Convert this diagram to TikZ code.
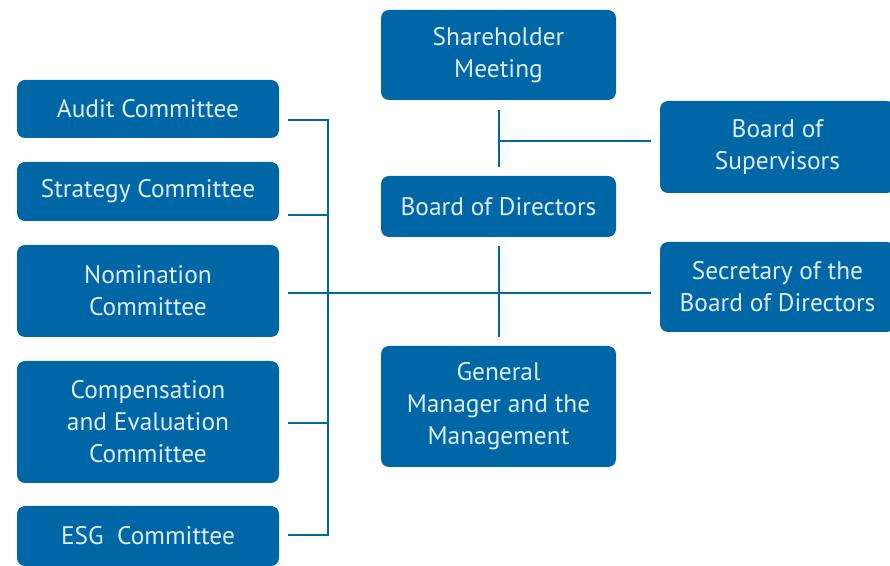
\documentclass[tikz,border=0pt]{standalone}
\usepackage{fontspec}
\setmainfont{PT Sans}
\usetikzlibrary{calc}
\definecolor{orgblue}{RGB}{0,103,167}
\definecolor{orgtext}{RGB}{222,236,246}
\begin{document}
\begin{tikzpicture}[x=0.5pt,y=-0.5pt,
    orgbox/.style={fill=orgblue, rounded corners=4pt, text=orgtext, align=center,
      inner sep=0pt, font=\fontsize{12.7}{16}\selectfont},
    leftbox/.style={orgbox, minimum width=131pt},
    midbox/.style={orgbox, minimum width=117.5pt},
    link/.style={draw=orgblue, line width=1pt}]
    \useasboundingbox (0,0) rectangle (890,566);
    % centre column
    \node [midbox, minimum height=45pt] (share) at (498.5,55) {Shareholder\\Meeting};
    \node [midbox, minimum height=30.5pt] (board) at (498.5,206.5) {Board of Directors};
    \node [midbox, minimum height=60.5pt] (gm) at (498.5,406.5) {General\\Manager and the\\Management};
    % right column
    \node [midbox, minimum height=46pt] (sup) at (777.5,147) {Board of\\Supervisors};
    \node [midbox, minimum height=45pt] (sec) at (777.5,287) {Secretary of the\\Board of Directors};
    % committees
    \node [leftbox, minimum height=29pt] (audit) at (148,109) {Audit Committee};
    \node [leftbox, minimum height=29.5pt] (strat) at (148,191.5) {Strategy Committee};
    \node [leftbox, minimum height=46pt] (nom) at (148,291) {Nomination\\Committee};
    \node [leftbox, minimum height=61pt] (comp) at (148,422) {Compensation\\and Evaluation\\Committee};
    \node [leftbox, minimum height=30pt] (esg) at (148,536) {ESG\ \ Committee};
    % connectors
    \coordinate (j1) at (498.5,141);
    \coordinate (j2) at (498.5,293);
    \coordinate (bustop) at (328,120);
    \coordinate (busbot) at (328,535);
    \draw [link] ([yshift=-5pt]share.south) -- ([yshift=4.5pt]board.north);
    \draw [link] (j1) -- ($(sup.west |- j1)+(-9,0)$);
    \draw [link] ([yshift=-4.5pt]board.south) -- ([yshift=4.5pt]gm.north);
    \draw [link] ($(nom.east |- j2)+(9,0)$) -- ($(sec.west |- j2)+(-9,0)$);
    \draw [link] ($(audit.east |- bustop)+(9,0)$) -- (bustop) -- (busbot) -- ($(esg.east |- busbot)+(9,0)$);
    \foreach \n/\y in {strat/215, comp/423}
      \draw [link] ($(\n.east |- 0,\y)+(9,0)$) -- (328,\y);
\end{tikzpicture}
\end{document}
